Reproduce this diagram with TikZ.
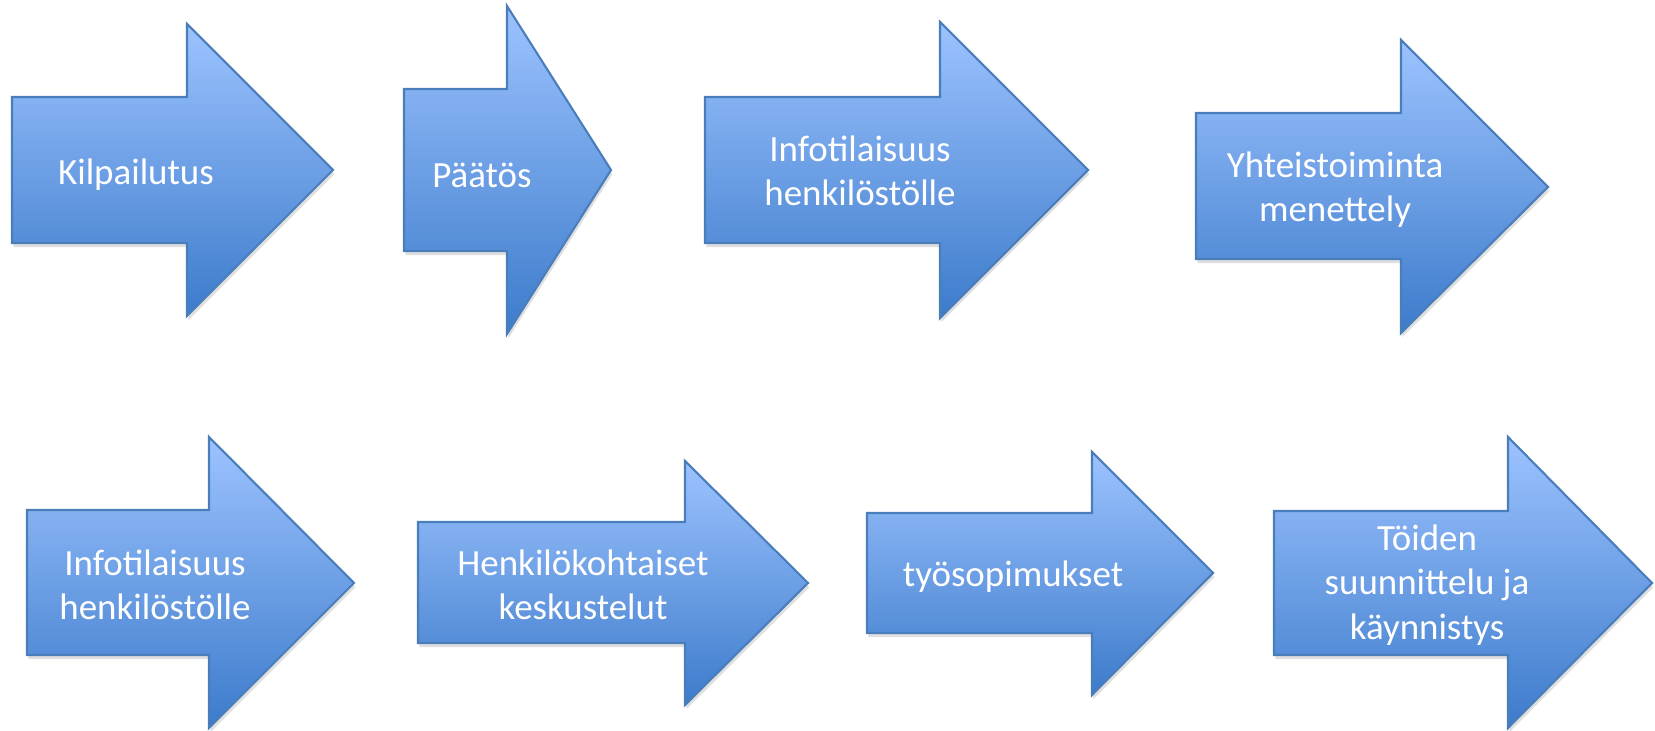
\documentclass[tikz,border=0pt]{standalone}
\usepackage{fontspec}
\setmainfont{Carlito}
\usetikzlibrary{shadows}
\definecolor{arrtop}{HTML}{9DC3FF}
\definecolor{arrbot}{HTML}{3C7BCB}
\definecolor{arrline}{HTML}{4A7EBB}
\newcommand\rarr[9]{%
  \path[arrowbody] (#1,#2) -- (#4,#2) -- (#4,#5) -- (#7,#8) -- (#4,#6) -- (#4,#3) -- (#1,#3) -- cycle;
  \coordinate (#9) at ({(#1+#7)/2},#8);}
\tikzset{
  arrowbody/.style={draw=arrline, line width=0.6pt, top color=arrtop, bottom color=arrbot,
    drop shadow={opacity=0.25, shadow xshift=0.4pt, shadow yshift=-1.2pt}},
  lbl/.style={text=white, align=center, font=\fontsize{10.5}{12.6}\selectfont, inner sep=0pt}
}
\begin{document}
\begin{tikzpicture}[x=0.01cm, y=-0.01cm]
\useasboundingbox (0,0) rectangle (1655,731);
% row 1
\rarr{12}{97}{243}{187}{24}{316}{333}{170}{a1}
\rarr{404}{89}{251}{507}{6}{334}{611}{170}{a2}
\rarr{705}{97}{243}{940}{22}{318}{1088}{170}{a3}
\rarr{1196}{113}{259}{1401}{40}{333}{1548}{187}{a4}
% row 2
\rarr{27}{510}{655}{209}{437}{728}{354}{583}{a5}
\rarr{418}{522}{643}{685}{461}{705}{808}{583}{a6}
\rarr{867}{513}{633}{1092}{452}{695}{1213}{573}{a7}
\rarr{1274}{511}{655}{1508}{437}{728}{1652}{583}{a8}
% labels
\node[lbl] (t1) at (136,175) {Kilpailutus};
\node[lbl] (t2) at (482,175) {Päätös};
\node[lbl] (t3) at (860,171) {Infotilaisuus\\henkilöstölle};
\node[lbl] (t4) at (1335,190) {Yhteistoiminta\\menettely};
\node[lbl] (t5) at (155,585) {Infotilaisuus\\henkilöstölle};
\node[lbl] (t6) at (583,585) {Henkilökohtaiset\\keskustelut};
\node[lbl] (t7) at (1013,577) {työsopimukset};
\node[lbl] (t8) at (1427,585) {Töiden\\suunnittelu ja\\käynnistys};
\end{tikzpicture}
\end{document}
